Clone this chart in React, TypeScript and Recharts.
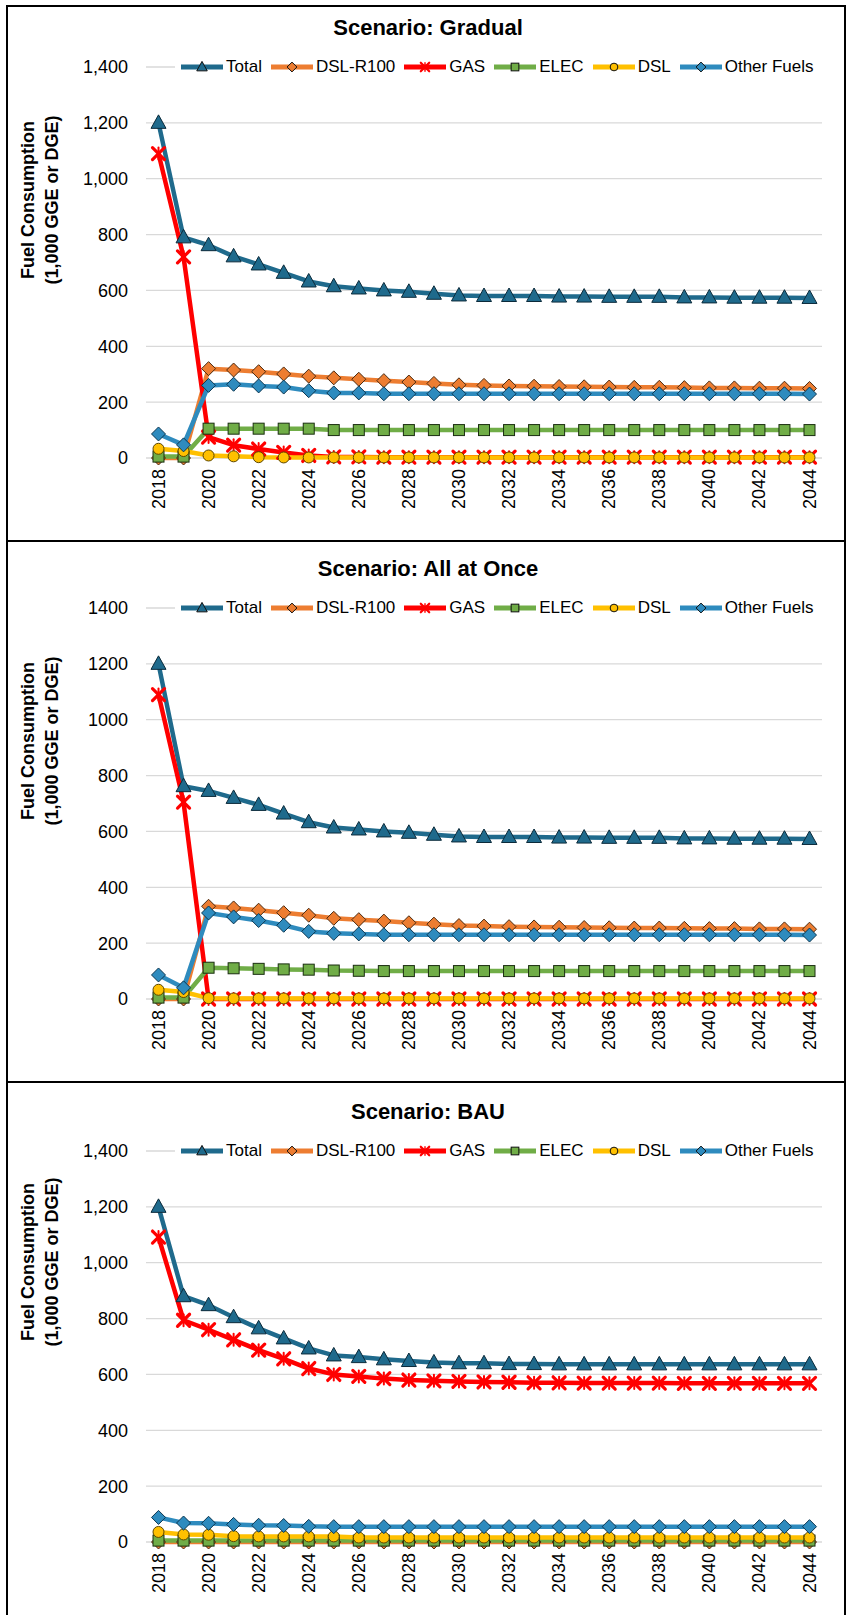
import React from "react";
import { LineChart, Line, XAxis, YAxis, CartesianGrid } from "recharts";

const years = [
  2018, 2019, 2020, 2021, 2022, 2023, 2024, 2025, 2026, 2027, 2028, 2029, 2030, 2031,
  2032, 2033, 2034, 2035, 2036, 2037, 2038, 2039, 2040, 2041, 2042, 2043, 2044,
];
const yTicks = [0, 200, 400, 600, 800, 1000, 1200, 1400];

// Scenario: Gradual
const gradualTotal = [1200, 790, 762, 722, 693, 663, 632, 615, 607, 600, 595, 588, 582, 580, 580, 580, 578, 578, 577, 577, 577, 575, 575, 574, 574, 574, 573];
const gradualDslR100 = [0, 0, 320, 315, 309, 301, 293, 287, 282, 277, 272, 267, 262, 260, 258, 257, 256, 255, 254, 253, 253, 252, 251, 251, 250, 250, 249];
const gradualGas = [1090, 720, 75, 46, 32, 20, 9, 4, 4, 3, 3, 3, 3, 3, 3, 3, 3, 3, 3, 3, 3, 3, 3, 3, 3, 3, 3];
const gradualElec = [5, 5, 105, 105, 105, 105, 105, 100, 100, 100, 100, 100, 100, 100, 100, 100, 100, 100, 100, 100, 100, 100, 100, 100, 100, 100, 100];
const gradualDsl = [33, 25, 9, 6, 3, 2, 2, 2, 2, 2, 2, 2, 2, 2, 2, 2, 2, 2, 2, 2, 2, 2, 2, 2, 2, 2, 2];
const gradualOther = [86, 47, 260, 264, 258, 254, 241, 233, 233, 230, 230, 230, 230, 230, 230, 230, 230, 230, 230, 230, 230, 230, 230, 230, 230, 230, 229];

// Scenario: All at Once
const onceTotal = [1200, 762, 745, 720, 695, 664, 633, 614, 607, 600, 595, 588, 582, 580, 580, 580, 578, 578, 577, 577, 577, 575, 575, 574, 574, 574, 573];
const onceDslR100 = [0, 0, 332, 326, 318, 309, 300, 289, 284, 279, 273, 268, 263, 261, 259, 258, 257, 256, 255, 254, 254, 253, 252, 252, 251, 251, 250];
const onceGas = [1090, 705, 0, 0, 0, 0, 0, 0, 0, 0, 0, 0, 0, 0, 0, 0, 0, 0, 0, 0, 0, 0, 0, 0, 0, 0, 0];
const onceElec = [5, 5, 112, 110, 108, 106, 105, 102, 101, 100, 100, 100, 100, 100, 100, 100, 100, 100, 100, 100, 100, 100, 100, 100, 100, 100, 100];
const onceDsl = [33, 25, 3, 2, 2, 2, 2, 2, 2, 2, 2, 2, 2, 2, 2, 2, 2, 2, 2, 2, 2, 2, 2, 2, 2, 2, 2];
const onceOther = [86, 40, 308, 294, 281, 264, 242, 235, 233, 230, 230, 230, 230, 230, 230, 230, 230, 230, 230, 230, 230, 230, 230, 230, 230, 230, 229];

// Scenario: BAU
const bauTotal = [1200, 880, 848, 805, 765, 729, 693, 668, 662, 654, 648, 643, 640, 640, 637, 637, 636, 636, 636, 636, 636, 636, 636, 636, 636, 636, 636];
const bauDslR100 = [0, 0, 0, 0, 0, 0, 0, 0, 0, 0, 0, 0, 0, 0, 0, 0, 0, 0, 0, 0, 0, 0, 0, 0, 0, 0, 0];
const bauGas = [1092, 794, 760, 724, 687, 656, 621, 600, 593, 585, 580, 577, 575, 573, 572, 570, 570, 569, 569, 569, 569, 568, 568, 568, 568, 568, 568];
const bauElec = [5, 5, 5, 5, 5, 5, 5, 5, 5, 5, 5, 5, 5, 5, 5, 5, 5, 5, 5, 5, 5, 5, 5, 5, 5, 5, 5];
const bauDsl = [36, 27, 26, 21, 20, 20, 20, 20, 16, 16, 16, 16, 16, 16, 16, 16, 16, 16, 16, 16, 16, 16, 16, 16, 16, 16, 16];
const bauOther = [88, 68, 67, 63, 60, 59, 56, 55, 55, 55, 55, 55, 55, 55, 55, 55, 55, 55, 55, 55, 55, 55, 55, 55, 55, 55, 55];

const FONT = '"Liberation Sans", Arial, sans-serif';

const SERIES = [
  { key: "total", name: "Total", color: "#1F6A8C", edge: "#0B2A3A", kind: "triangle" },
  { key: "dslR100", name: "DSL-R100", color: "#ED7D31", edge: "#4A2A10", kind: "diamond" },
  { key: "gas", name: "GAS", color: "#FF0000", edge: "#FF0000", kind: "gas" },
  { key: "elec", name: "ELEC", color: "#70AD47", edge: "#1A2E10", kind: "square" },
  { key: "dsl", name: "DSL", color: "#FFC000", edge: "#5C4600", kind: "circle" },
  { key: "other", name: "Other Fuels", color: "#2E8BBE", edge: "#0B3650", kind: "diamond" },
];

function buildRows(total, dslR100, gas, elec, dsl, other) {
  return years.map((year, i) => ({
    year,
    total: total[i],
    dslR100: dslR100[i],
    gas: gas[i],
    elec: elec[i],
    dsl: dsl[i],
    other: other[i],
  }));
}

function Marker({ kind, cx, cy, fill, edge, s = 1 }: any) {
  if (cx == null || cy == null) return null;
  if (kind === "triangle") {
    return (
      <polygon
        points={`${cx},${cy - 8 * s} ${cx + 7.5 * s},${cy + 5.5 * s} ${cx - 7.5 * s},${cy + 5.5 * s}`}
        fill={fill}
        stroke={edge}
        strokeWidth={1}
      />
    );
  }
  if (kind === "diamond") {
    return (
      <polygon
        points={`${cx},${cy - 7 * s} ${cx + 7 * s},${cy} ${cx},${cy + 7 * s} ${cx - 7 * s},${cy}`}
        fill={fill}
        stroke={edge}
        strokeWidth={1}
      />
    );
  }
  if (kind === "square") {
    return <rect x={cx - 5.5 * s} y={cy - 5.5 * s} width={11 * s} height={11 * s} fill={fill} stroke={edge} strokeWidth={1} />;
  }
  if (kind === "circle") {
    return <circle cx={cx} cy={cy} r={5.5 * s} fill={fill} stroke={edge} strokeWidth={1} />;
  }
  const d = 6 * s;
  return (
    <g stroke={fill} strokeWidth={3.2 * s} strokeLinecap="round">
      <line x1={cx - d} y1={cy - d} x2={cx + d} y2={cy + d} />
      <line x1={cx - d} y1={cy + d} x2={cx + d} y2={cy - d} />
      <line x1={cx} y1={cy - d} x2={cx} y2={cy + d} strokeWidth={2 * s} />
    </g>
  );
}

function YearTick({ x, y, payload }: any) {
  return (
    <text
      transform={`translate(${x},${y + 11}) rotate(-90)`}
      textAnchor="end"
      dominantBaseline="central"
      fontSize={18}
      fill="#000"
      fontFamily={FONT}
    >
      {payload.value}
    </text>
  );
}

function LegendRow() {
  return (
    <div
      style={{
        position: "absolute",
        left: 175,
        top: 56,
        width: 649,
        height: 22,
        paddingLeft: 6,
        boxSizing: "border-box",
        background: "#fff",
        display: "flex",
        alignItems: "center",
        fontSize: 17,
        color: "#000",
        whiteSpace: "nowrap",
      }}
    >
      {SERIES.map((s) => (
        <div key={s.key} style={{ display: "flex", alignItems: "center", marginRight: 9 }}>
          <svg width={42} height={16} style={{ marginRight: 3 }}>
            <line x1={0} y1={8} x2={42} y2={8} stroke={s.color} strokeWidth={5} />
            <Marker kind={s.kind} cx={21} cy={8} fill={s.color} edge={s.kind === "gas" ? s.color : "#111"} s={0.7} />
          </svg>
          <span>{s.name}</span>
        </div>
      ))}
    </div>
  );
}

function Panel({ top, title, rows, commas, yTitleY }: any) {
  return (
    <div style={{ position: "absolute", left: 0, top, width: 849, height: 520 }}>
      <LineChart width={849} height={520} data={rows} margin={{ top: 67, right: 27, bottom: 12, left: 0 }}>
        <CartesianGrid vertical={false} stroke="#D9D9D9" strokeWidth={1.3} />
        <XAxis
          dataKey="year"
          interval={1}
          padding={{ left: 12.5, right: 12.5 }}
          axisLine={false}
          tickLine={false}
          tickSize={0}
          tickMargin={0}
          height={50}
          tick={(p: any) => <YearTick {...p} />}
        />
        <YAxis
          domain={[0, 1400]}
          ticks={yTicks}
          width={146}
          axisLine={false}
          tickLine={false}
          tickSize={0}
          tickMargin={18}
          tick={{ fill: "#000", fontSize: 18, fontFamily: FONT }}
          tickFormatter={(v: number) => (commas ? v.toLocaleString("en-US") : String(v))}
        />
        {SERIES.map((s) => (
          <Line
            key={s.key}
            dataKey={s.key}
            name={s.name}
            stroke={s.color}
            strokeWidth={4.5}
            strokeLinejoin="round"
            isAnimationActive={false}
            activeDot={false}
            dot={(p: any) => (
              <Marker key={`${s.key}-${p.index}`} kind={s.kind} cx={p.cx} cy={p.cy} fill={s.color} edge={s.edge} />
            )}
          />
        ))}
      </LineChart>
      <div
        style={{
          position: "absolute",
          left: 0,
          top: 15,
          width: 856,
          height: 25,
          lineHeight: "25px",
          textAlign: "center",
          fontWeight: "bold",
          fontSize: 22,
        }}
      >
        {title}
      </div>
      <svg width={80} height={520} style={{ position: "absolute", left: 0, top: 0 }}>
        <text
          transform={`translate(28,${yTitleY}) rotate(-90)`}
          textAnchor="middle"
          dominantBaseline="central"
          fontWeight="bold"
          fontSize={18}
          fontFamily={FONT}
        >
          Fuel Consumption
        </text>
        <text
          transform={`translate(52,${yTitleY}) rotate(-90)`}
          textAnchor="middle"
          dominantBaseline="central"
          fontWeight="bold"
          fontSize={18}
          fontFamily={FONT}
        >
          (1,000 GGE or DGE)
        </text>
      </svg>
      <LegendRow />
    </div>
  );
}

export default function App() {
  const gradualRows = buildRows(gradualTotal, gradualDslR100, gradualGas, gradualElec, gradualDsl, gradualOther);
  const onceRows = buildRows(onceTotal, onceDslR100, onceGas, onceElec, onceDsl, onceOther);
  const bauRows = buildRows(bauTotal, bauDslR100, bauGas, bauElec, bauDsl, bauOther);
  const line = (style: any) => <div style={{ position: "absolute", background: "#000", ...style }} />;
  return (
    <div
      style={{
        position: "absolute",
        left: 0,
        top: 0,
        width: 849,
        height: 1615,
        overflow: "hidden",
        background: "#fff",
        fontFamily: FONT,
      }}
    >
      <Panel top={0} title="Scenario:  Gradual" rows={gradualRows} commas yTitleY={200} />
      <Panel top={541} title="Scenario:  All at Once" rows={onceRows} commas={false} yTitleY={200} />
      <Panel top={1084} title="Scenario:  BAU" rows={bauRows} commas yTitleY={178} />
      {line({ left: 6, top: 5, width: 840, height: 2 })}
      {line({ left: 6, top: 5, width: 2, height: 1615 })}
      {line({ left: 844, top: 5, width: 2, height: 1615 })}
      {line({ left: 6, top: 540, width: 840, height: 2 })}
      {line({ left: 6, top: 1081, width: 840, height: 2 })}
    </div>
  );
}
